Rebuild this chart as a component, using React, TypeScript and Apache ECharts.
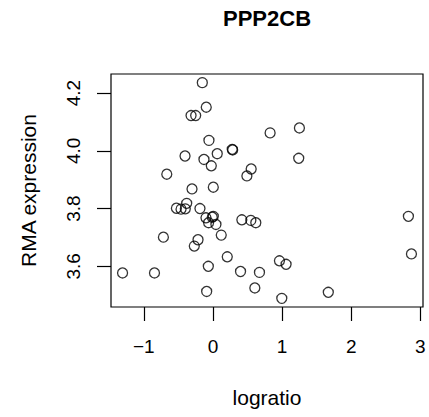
import React, { useEffect, useRef } from "react";
import * as echarts from "echarts";

const title = "PPP2CB";
const xName = "logratio";
const yName = "RMA expression";

const logratio = [
  -0.154, -0.097, -0.317, -0.25, 1.251, 0.827, -0.058, 0.279, 0.285, -0.404,
  0.062, -0.13, -0.024, 1.241, 0.553, 0.491, -0.668, -0.303, 0.005, -0.38,
  -0.529, -0.462, -0.4, -0.188, 0.005, -0.101, -0.01, -0.063, 0.043, 0.418,
  0.548, 0.62, 2.828, 0.12, -0.717, -0.216, -0.27, 0.207, 2.872, 0.962,
  1.058, -0.067, -1.308, -0.846, 0.399, 0.673, 0.606, -0.091, 1.669, 0.996,
];
const rma = [
  4.236, 4.151, 4.122, 4.122, 4.079, 4.062, 4.036, 4.005, 4.003, 3.982,
  3.99, 3.97, 3.948, 3.974, 3.937, 3.913, 3.919, 3.868, 3.874, 3.818,
  3.801, 3.798, 3.799, 3.8, 3.773, 3.768, 3.77, 3.751, 3.745, 3.761,
  3.759, 3.751, 3.773, 3.708, 3.701, 3.692, 3.67, 3.633, 3.643, 3.619,
  3.607, 3.6, 3.577, 3.577, 3.582, 3.579, 3.525, 3.513, 3.51, 3.489,
];
const xTicks = [-1, 0, 1, 2, 3];
const yTicks = [3.6, 3.8, 4.0, 4.2];

const FONT = "'Liberation Sans', Arial, Helvetica, sans-serif";

function padRange(vals: number[]) {
  const lo = Math.min(...vals);
  const hi = Math.max(...vals);
  const p = (hi - lo) * 0.04;
  return [lo - p, hi + p];
}

export default function App() {
  const ref = useRef<HTMLDivElement>(null);
  useEffect(() => {
    if (!ref.current) return;
    const chart = echarts.init(ref.current, null, { renderer: "svg" });
    const [xmin, xmax] = padRange(logratio);
    const [ymin, ymax] = padRange(rma);
    chart.setOption({
      animation: false,
      backgroundColor: "#ffffff",
      title: {
        text: title,
        left: 267,
        top: 7,
        padding: 0,
        textAlign: "center",
        textStyle: { fontFamily: FONT, fontSize: 22, fontWeight: "bold", color: "#000" },
      },
      grid: {
        left: 111,
        top: 74,
        width: 312,
        height: 233,
        show: true,
        borderColor: "#000",
        borderWidth: 1.2,
        backgroundColor: "transparent",
      },
      xAxis: {
        type: "value",
        position: "bottom",
        min: xmin,
        max: xmax,
        name: xName,
        nameLocation: "middle",
        nameGap: 80,
        nameTextStyle: { fontFamily: FONT, fontSize: 21, color: "#000" },
        axisLine: { show: false, onZero: false },
        splitLine: { show: false },
        axisTick: {
          show: true,
          inside: false,
          length: 14,
          customValues: xTicks,
          lineStyle: { color: "#000", width: 1.2 },
        },
        axisLabel: {
          customValues: xTicks,
          margin: 30,
          fontFamily: FONT,
          fontSize: 19,
          color: "#000",
          formatter: (v: number) => (v < 0 ? "\u2212" + Math.abs(v) : String(v)),
        },
      },
      yAxis: {
        type: "value",
        position: "left",
        min: ymin,
        max: ymax,
        name: yName,
        nameLocation: "middle",
        nameRotate: 90,
        nameGap: 72,
        nameTextStyle: { fontFamily: FONT, fontSize: 21, color: "#000" },
        axisLine: { show: false, onZero: false },
        splitLine: { show: false },
        axisTick: {
          show: true,
          inside: false,
          length: 14,
          customValues: yTicks,
          lineStyle: { color: "#000", width: 1.2 },
        },
        axisLabel: {
          customValues: yTicks,
          rotate: 90,
          margin: 28,
          fontFamily: FONT,
          fontSize: 19,
          color: "#000",
          formatter: (v: number) => v.toFixed(1),
        },
      },
      series: [
        {
          type: "scatter",
          data: logratio.map((x, i) => [x, rma[i]]),
          symbol: "circle",
          symbolSize: 10,
          itemStyle: {
            color: "rgba(0,0,0,0)",
            borderColor: "#000",
            borderWidth: 1.3,
          },
          emphasis: { disabled: true },
        },
      ],
    });
    return () => chart.dispose();
  }, []);
  return (
    <div
      ref={ref}
      style={{ position: "fixed", left: 0, top: 0, width: 429, height: 417 }}
    />
  );
}
